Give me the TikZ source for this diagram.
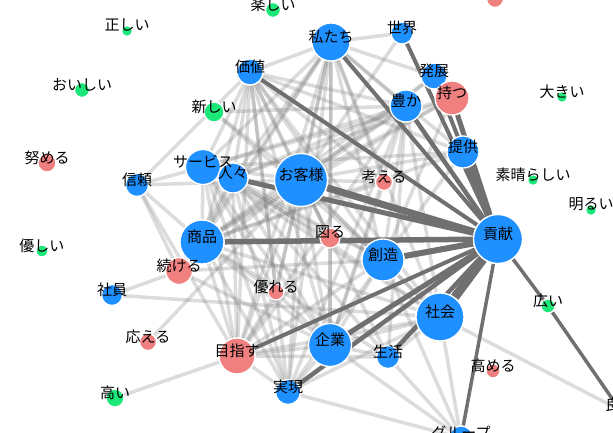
\documentclass[tikz,border=0pt]{standalone}
\usepackage{fontspec}
\newfontfamily\jpfont{Noto Sans CJK JP}
\usetikzlibrary{backgrounds}
\definecolor{nounblue}{RGB}{30,144,255}
\definecolor{verbred}{RGB}{240,128,128}
\definecolor{adjgreen}{RGB}{28,232,122}
\definecolor{edgedark}{RGB}{112,112,112}
\definecolor{edgelight}{RGB}{128,128,128}
\begin{document}
\begin{tikzpicture}[x=1pt, y=-1pt,
    kw/.style={circle, draw=white, line width=1.3pt, inner sep=0pt},
    noun/.style={kw, fill=nounblue},
    verb/.style={kw, fill=verbred},
    adj/.style={kw, fill=adjgreen},
    lbl/.style={font=\jpfont\fontsize{15}{15}\selectfont, inner sep=0pt, yshift=5.5pt},
    strong/.style={draw=edgedark, line width=#1}, strong/.default=4pt,
    weak/.style={draw=edgelight, draw opacity=0.28, line width=3.5pt}]
    \useasboundingbox (0,0) rectangle (613,433);
    % nouns
    \node[noun, minimum size=38pt] (watashi) at (331,42) {};
    \node[noun, minimum size=22pt] (sekai) at (402,33) {};
    \node[noun, minimum size=26pt] (kachi) at (250,72) {};
    \node[noun, minimum size=26pt] (hatten) at (434,76) {};
    \node[noun, minimum size=32pt] (yutaka) at (406,106) {};
    \node[noun, minimum size=32pt] (teikyo) at (463,152) {};
    \node[noun, minimum size=23pt] (shinrai) at (137,185) {};
    \node[noun, minimum size=35pt] (service) at (203,167) {};
    \node[noun, minimum size=30pt] (hitobito) at (233,178) {};
    \node[noun, minimum size=53pt] (okyaku) at (301,180) {};
    \node[noun, minimum size=44pt] (shohin) at (202,242) {};
    \node[noun, minimum size=42pt] (sozo) at (383,260) {};
    \node[noun, minimum size=49pt] (kouken) at (498,239) {};
    \node[noun, minimum size=48pt] (shakai) at (440,317) {};
    \node[noun, minimum size=43pt] (kigyo) at (330,345) {};
    \node[noun, minimum size=23pt] (seikatsu) at (388,357) {};
    \node[noun, minimum size=24pt] (group) at (461,438) {};
    \node[noun, minimum size=21pt] (shain) at (112,295) {};
    \node[noun, minimum size=25pt] (jitsugen) at (288,392) {};
    % verbs
    \node[verb, minimum size=34pt] (motsu) at (452,98) {};
    \node[verb, minimum size=17pt] (kangaeru) at (384,182) {};
    \node[verb, minimum size=18pt] (tsutomeru) at (47,163) {};
    \node[verb, minimum size=20pt] (hakaru) at (330,238) {};
    \node[verb, minimum size=14pt] (takameru) at (493,371) {};
    \node[verb, minimum size=27pt] (tsuzukeru) at (179,271) {};
    \node[verb, minimum size=16pt] (sugureru) at (276,292) {};
    \node[verb, minimum size=17pt] (kotaeru) at (148,342) {};
    \node[verb, minimum size=36pt] (mezasu) at (237,356) {};
    \node[verb, minimum size=17pt] (verbtop) at (495,-1) {};
    % adjectives
    \node[adj, minimum size=15pt] (tanoshii) at (273,10) {};
    \node[adj, minimum size=11pt] (tadashii) at (127,31) {};
    \node[adj, minimum size=15pt] (oishii) at (82,90) {};
    \node[adj, minimum size=20pt] (atarashii) at (214,112) {};
    \node[adj, minimum size=11pt] (ookii) at (562,97) {};
    \node[adj, minimum size=11pt] (subarashii) at (533,180) {};
    \node[adj, minimum size=11pt] (akarui) at (591,210) {};
    \node[adj, minimum size=14pt] (hiroi) at (548,306) {};
    \node[adj, minimum size=12pt] (yasashii) at (42,251) {};
    \node[adj, minimum size=18pt] (takai) at (115,398) {};
    \node[adj, minimum size=14pt] (yoi) at (620,410) {};
    % words on top of the circles
    \foreach \n/\t in {watashi/私たち, sekai/世界, kachi/価値, hatten/発展, yutaka/豊か,
        teikyo/提供, shinrai/信頼, service/サービス, hitobito/人々, okyaku/お客様,
        shohin/商品, sozo/創造, kouken/貢献, shakai/社会, kigyo/企業, seikatsu/生活,
        group/グループ, shain/社員, jitsugen/実現, motsu/持つ, kangaeru/考える,
        tsutomeru/努める, hakaru/図る, takameru/高める, tsuzukeru/続ける, sugureru/優れる,
        kotaeru/応える, mezasu/目指す, tanoshii/楽しい, tadashii/正しい, oishii/おいしい,
        atarashii/新しい, ookii/大きい, subarashii/素晴らしい, akarui/明るい, hiroi/広い,
        yasashii/優しい, takai/高い, yoi/良い}
        \node[lbl] at (\n) {\t};
    \begin{scope}[on background layer]
        % co-occurrence, weak
        \foreach \a/\b in {watashi/kachi, watashi/service, watashi/hitobito, watashi/okyaku,
            watashi/shohin, watashi/sozo, watashi/mezasu, watashi/kigyo, watashi/shakai,
            watashi/jitsugen, watashi/yutaka, kachi/service, kachi/hitobito, kachi/okyaku,
            kachi/shohin, kachi/sozo, kachi/mezasu, kachi/kigyo, kachi/shakai, kachi/jitsugen,
            kachi/yutaka, service/hitobito, service/okyaku, service/shohin, service/sozo,
            service/mezasu, service/kigyo, service/shakai, service/jitsugen, service/yutaka,
            hitobito/shohin, hitobito/sozo, hitobito/mezasu, hitobito/kigyo, hitobito/shakai,
            hitobito/jitsugen, hitobito/yutaka, okyaku/shohin, okyaku/sozo, okyaku/mezasu,
            okyaku/kigyo, okyaku/shakai, okyaku/jitsugen, okyaku/yutaka, shohin/mezasu,
            shohin/kigyo, shohin/shakai, shohin/jitsugen, shohin/yutaka, sozo/mezasu,
            sozo/kigyo, sozo/shakai, sozo/jitsugen, sozo/yutaka, mezasu/kigyo, mezasu/shakai,
            mezasu/jitsugen, mezasu/yutaka, kigyo/shakai, kigyo/jitsugen, kigyo/yutaka,
            shakai/jitsugen, shakai/yutaka, jitsugen/yutaka,
            sekai/watashi, sekai/okyaku, hatten/okyaku, hatten/shohin, hatten/watashi,
            motsu/okyaku, motsu/shohin, motsu/service, motsu/hitobito, motsu/sozo,
            teikyo/okyaku, teikyo/shohin, teikyo/service, teikyo/kachi, teikyo/watashi,
            teikyo/sozo, kangaeru/okyaku, kangaeru/watashi, kangaeru/shohin, kangaeru/kigyo,
            kangaeru/kachi, hakaru/okyaku, hakaru/watashi, hakaru/kachi, hakaru/mezasu,
            hakaru/kigyo, hakaru/service, tsuzukeru/shohin, tsuzukeru/okyaku,
            tsuzukeru/shinrai, tsuzukeru/shain, tsuzukeru/kigyo, tsuzukeru/sozo,
            tsuzukeru/watashi, tsuzukeru/hitobito, sugureru/shohin, sugureru/okyaku,
            sugureru/kigyo, sugureru/mezasu, sugureru/kachi, sugureru/watashi,
            sugureru/service, seikatsu/yutaka, seikatsu/okyaku, seikatsu/shohin,
            seikatsu/kigyo, seikatsu/shakai, seikatsu/group, seikatsu/hitobito,
            seikatsu/mezasu, shinrai/service, shinrai/okyaku, shinrai/shohin,
            shinrai/mezasu, shinrai/kachi, atarashii/yutaka, atarashii/okyaku,
            atarashii/sozo, shain/shakai, kotaeru/okyaku, takai/mezasu, group/shakai,
            group/kigyo, group/sozo, group/jitsugen, yoi/shakai}
            \draw[weak] (\a) -- (\b);
        % links to kouken, strong
        \foreach \a/\b/\w in {okyaku/kouken/7pt, hitobito/kouken/5pt, shohin/kouken/5.5pt,
            sozo/kouken/6pt, shakai/kouken/9pt, kigyo/kouken/5pt, jitsugen/kouken/4.5pt,
            mezasu/kouken/4pt, seikatsu/kouken/4.5pt, group/kouken/3.5pt,
            hiroi/kouken/3.5pt, hiroi/yoi/3.5pt, teikyo/kouken/6pt, motsu/kouken/5pt,
            hatten/kouken/4pt, yutaka/kouken/4.5pt, sekai/kouken/4pt,
            watashi/kouken/4pt, kachi/kouken/4pt}
            \draw[strong=\w] (\a) -- (\b);
    \end{scope}
\end{tikzpicture}
\end{document}
